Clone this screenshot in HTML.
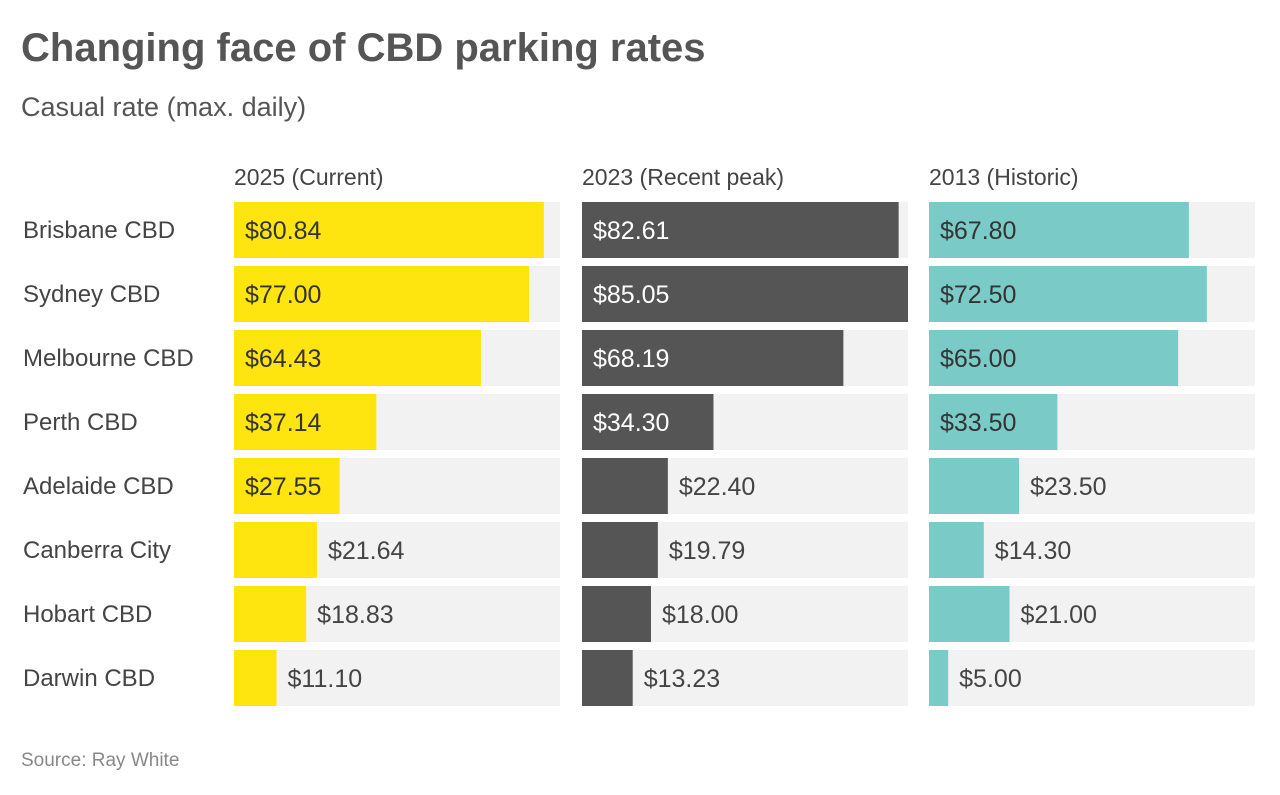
<!DOCTYPE html>
<html><head><meta charset="utf-8"><style>
body{margin:0;width:1280px;height:795px;background:#fff;font-family:"Liberation Sans",sans-serif;overflow:hidden;position:relative}
.t{position:absolute;white-space:nowrap}
</style></head><body>
<div class="t" style="left:21px;top:26px;font-size:40px;font-weight:bold;color:#555">Changing face of CBD parking rates</div>
<div class="t" style="left:21px;top:92px;font-size:27px;color:#555">Casual rate (max. daily)</div>
<div class="t" style="left:21px;top:750px;font-size:19px;color:#888">Source: Ray White</div>
<svg id="chart" width="1280" height="795" style="position:absolute;left:0;top:0;font-family:'Liberation Sans',sans-serif"></svg>
<script>
const cities=["Brisbane CBD","Sydney CBD","Melbourne CBD","Perth CBD","Adelaide CBD","Canberra City","Hobart CBD","Darwin CBD"];
const panelTitles=["2025 (Current)","2023 (Recent peak)","2013 (Historic)"];
const v2025=[80.84,77.00,64.43,37.14,27.55,21.64,18.83,11.10];
const v2023=[82.61,85.05,68.19,34.30,22.40,19.79,18.00,13.23];
const v2013=[67.80,72.50,65.00,33.50,23.50,14.30,21.00,5.00];
const series=[v2025,v2023,v2013];
const colors=["#FFE50F","#555555","#7ACBC7"];
const insideText=["#333","#fff","#333"];
const panelX=[234,582,929],panelW=326,maxV=85.05;
const rowY=i=>202+i*64,rowH=56;
const xs=v=>v/maxV*panelW;
const svg=document.getElementById('chart');const NS="http://www.w3.org/2000/svg";
function mk(tag,attrs,txt){const e=document.createElementNS(NS,tag);for(const k in attrs)e.setAttribute(k,attrs[k]);if(txt!=null)e.textContent=txt;svg.appendChild(e);return e;}
cities.forEach((c,i)=>{
  const e=mk('text',{x:23,y:rowY(i)+rowH/2+8,'font-size':24,fill:'#444'},c);
  
  
});
series.forEach((s,p)=>{
  const x0=panelX[p];
  const h=mk('text',{x:x0,y:185,'font-size':23,fill:'#444'},panelTitles[p]);
  
  
  s.forEach((v,i)=>{
    const bg=mk('rect',{x:x0,y:rowY(i),width:panelW,height:rowH,fill:'#f2f2f2'});
    
    
    const w=xs(v);
    const b=mk('rect',{x:x0,y:rowY(i),width:w,height:rowH,fill:colors[p]});
    
    
    const inside=v>=25;
    const t=mk('text',{x:inside?x0+11:x0+w+11,y:rowY(i)+rowH/2+9,'font-size':25,fill:inside?insideText[p]:'#444'},'$'+v.toFixed(2));
    
    
  });
});
</script>
</body></html>
